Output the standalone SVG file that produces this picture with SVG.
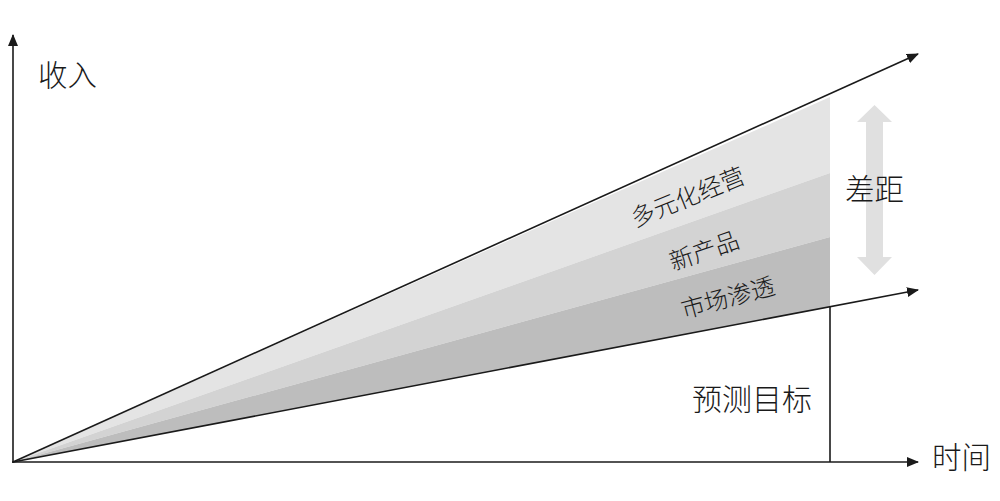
<svg xmlns="http://www.w3.org/2000/svg" width="1000" height="501" viewBox="0 0 1000 501">
<style>
.t{font-family:"Noto Sans CJK SC","Liberation Sans",sans-serif;fill:#1a1a1a;font-weight:300;}
.ax{stroke:#1a1a1a;stroke-width:1.6;fill:none;}
</style>
<defs>
<marker id="ah" viewBox="0 0 12 10" refX="11" refY="5" markerWidth="12" markerHeight="10" markerUnits="userSpaceOnUse" orient="auto">
<path d="M0,0 L12,5 L0,10 Z" fill="#1a1a1a"/>
</marker>
</defs>
<g id="bands">
<polygon points="13,462 830,97 830,173" fill="#e4e4e4"/>
<polygon points="13,462 830,173 830,237" fill="#d3d3d3"/>
<polygon points="13,462 830,237 830,307" fill="#bdbdbd"/>
</g>
<g id="gap-arrow">
<polygon points="874.5,105 892,122 883,122 883,257 892,257 874.5,275 857,257 866,257 866,122 857,122" fill="#e0e0e0"/>
</g>
<g id="connectors">
<line class="ax" x1="13" y1="463" x2="13" y2="35" marker-end="url(#ah)"/>
<line class="ax" x1="12" y1="462" x2="918" y2="462" marker-end="url(#ah)"/>
<line class="ax" x1="13" y1="462" x2="918" y2="54" marker-end="url(#ah)"/>
<line class="ax" x1="13" y1="462" x2="918" y2="290" marker-end="url(#ah)"/>
<line class="ax" x1="830" y1="307" x2="830" y2="462"/>
</g>
<g id="labels">
<text class="t" x="38" y="86" font-size="29.5">收入</text>
<text class="t" x="932" y="468" font-size="29.5">时间</text>
<text class="t" x="845" y="200" font-size="29.5">差距</text>
<text class="t" x="692" y="410" font-size="30">预测目标</text>
<text class="t" font-size="24" text-anchor="middle" transform="translate(691,205) rotate(-22)">多元化经营</text>
<text class="t" font-size="24" text-anchor="middle" transform="translate(707,259) rotate(-19)">新产品</text>
<text class="t" font-size="24" text-anchor="middle" transform="translate(730,306) rotate(-15)">市场渗透</text>
</g>
</svg>
